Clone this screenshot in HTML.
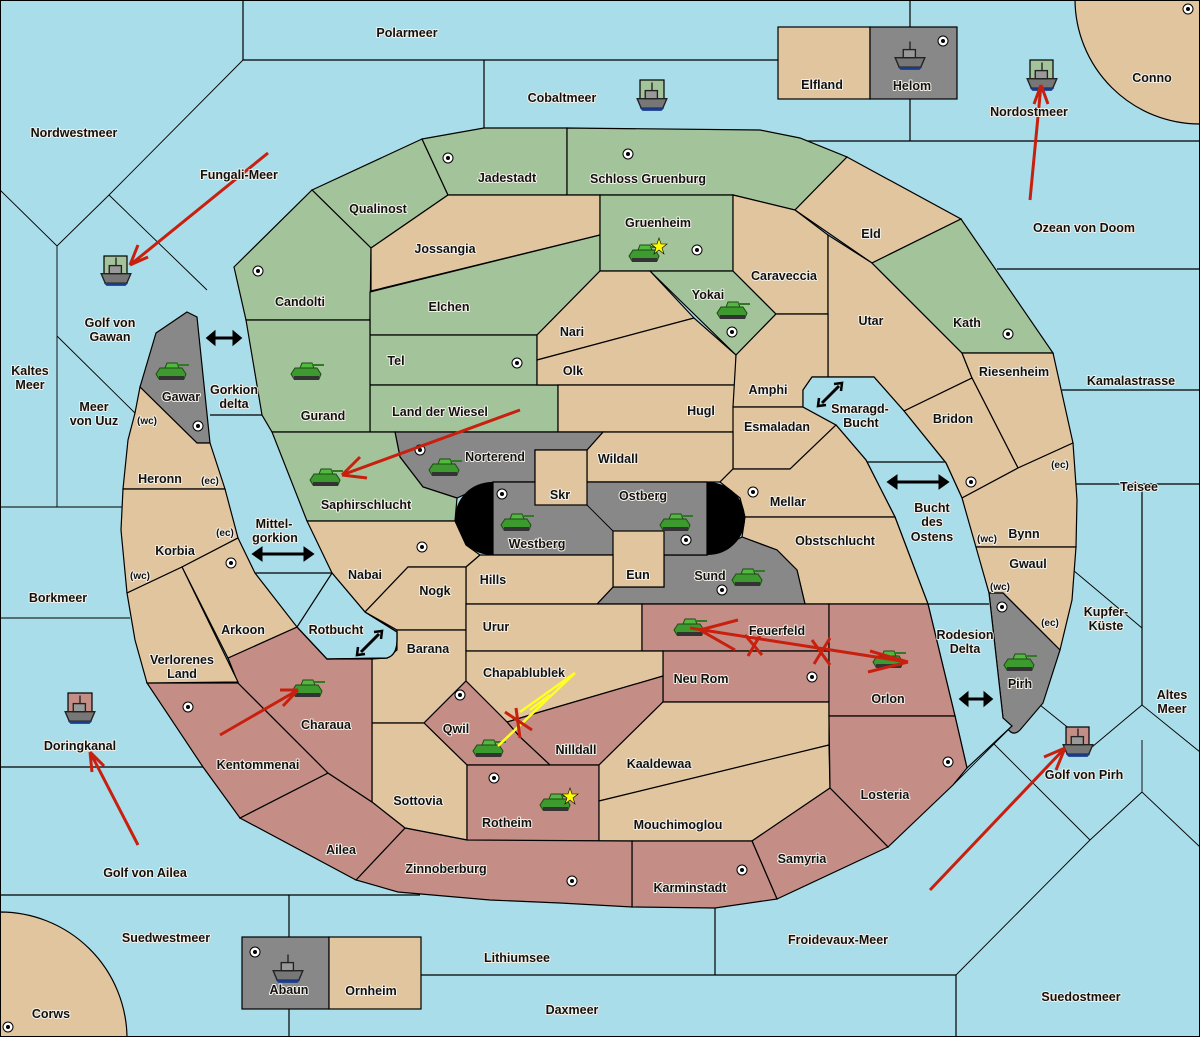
<!DOCTYPE html>
<html><head><meta charset="utf-8"><style>
html,body{margin:0;padding:0;background:#a9dde9;}
svg{display:block;}
text{font-family:"Liberation Sans",sans-serif;font-weight:bold;font-size:12.5px;fill:#111;text-anchor:middle;paint-order:stroke;stroke:#f4f0e8;stroke-width:2px;stroke-linejoin:round;}
.b{fill:#e1c59e;stroke:#000;stroke-width:1.2}
.g{fill:#a3c49a;stroke:#000;stroke-width:1.2}
.r{fill:#c48e86;stroke:#000;stroke-width:1.2}
.k{fill:#888;stroke:#000;stroke-width:1.2}
.w{fill:#a9dde9;stroke:#000;stroke-width:1.2}
.l{stroke:#000;stroke-width:1.2;fill:none}
.t{stroke:#000;stroke-width:0.9;fill:none}
.ar{stroke:#c8200f;stroke-width:3;fill:none;stroke-linecap:butt}
</style></head><body>
<svg width="1200" height="1037" viewBox="0 0 1200 1037" xmlns="http://www.w3.org/2000/svg">
<defs>
<g id="tk">
<path d="M-16,2 L-12,-4 L10,-4 L14,2 L12,7 L-13,7 Z" fill="#3d9a2e" stroke="#1d4a14" stroke-width="1"/>
<path d="M-7,-4 L-5,-9 L5,-9 L7,-4 Z" fill="#52b83f" stroke="#1d4a14" stroke-width="1"/>
<rect x="5" y="-8" width="12" height="2" fill="#2f7a22"/>
<rect x="-13" y="4" width="25" height="4" fill="#333"/>
</g>
<g id="sh0">
<path d="M-11,2 L11,2 L8,9 L-8,9 Z" fill="#777" stroke="#222" stroke-width="1"/>
<rect x="-5" y="-4" width="9" height="6" fill="#999" stroke="#222" stroke-width="1"/>
<line x1="0" y1="-10" x2="0" y2="-4" stroke="#222"/>
<path d="M-9,9 L9,9 L7,11 L-7,11 Z" fill="#1a3d8f"/>
</g>
<g id="sh"><g transform="scale(1.35)"><use href="#sh0"/></g></g>
<g id="dt"><circle r="5" fill="#fff" stroke="#000" stroke-width="1"/><circle r="2" fill="#000"/></g>
</defs>
<rect x="0" y="0" width="1200" height="1037" fill="#a9dde9"/>
<path class="b" d="M1075,0 A125,125 0 0 0 1200,124 L1200,0 Z"/>
<path class="b" d="M0,912 A127,127 0 0 1 127,1037 L0,1037 Z"/>
<path class="l" d="M243,0 V60 H778 M484,60 V128 M910,0 V27 M910,99 V141 M780,141 H1200"/>
<path class="t" d="M243,60 L109,195 L57,246 L0,190 M109,195 L207,290 M57,246 V507 M0,507 H122 M0,618 H130 M57,336 L135,413"/>
<path class="l" d="M997,269 H1200 M1062,390 H1200 M1072,484 H1200 M1142,484 V705 M0,767 H205 M0,895 H420 M289,895 V937 M289,1009 V1037 M421,975 H956 M715,908 V975 M956,975 V1037"/>
<path class="t" d="M1067,565 L1142,628 M1142,705 L1092,747 M1142,705 L1200,752 M1040,705 L1092,747 M1012,726 L953,785 M993,743 L1090,840 M1142,740 V792 L1090,840 L956,975 M1142,792 L1200,847"/>
<rect class="b" x="778" y="27" width="92" height="72"/>
<rect class="k" x="870" y="27" width="87" height="72"/>
<rect class="k" x="242" y="937" width="87" height="72"/>
<rect class="b" x="329" y="937" width="92" height="72"/>
<polygon class="g" points="422,139 312,190 371,248 448,195"/>
<polygon class="g" points="422,139 484,128 567,128 567,195 448,195"/>
<polygon class="g" points="567,128 760,130 800,138 847,157 795,210 733,195 567,195"/>
<polygon class="g" points="234,267 312,190 371,248 370,320 246,320"/>
<polygon class="b" points="371,248 448,195 600,195 600,235 371,291"/>
<polygon class="g" points="370,292 600,235 600,271 537,335 370,335"/>
<polygon class="g" points="370,335 537,335 537,385 370,385"/>
<polygon class="g" points="370,385 558,385 558,432 370,432"/>
<polygon class="g" points="246,320 370,320 370,432 272,432 262,415"/>
<polygon class="g" points="600,195 733,195 733,271 600,271"/>
<polygon class="g" points="650,271 733,271 776,314 736,355"/>
<polygon class="b" points="537,335 600,271 650,271 694,318 537,360"/>
<polygon class="b" points="537,360 694,318 736,355 736,385 537,385"/>
<polygon class="b" points="558,385 736,385 733,432 558,432"/>
<polygon class="b" points="847,157 961,219 872,263 795,210"/>
<polygon class="b" points="733,195 795,210 828,235 828,314 776,314 733,271"/>
<polygon class="b" points="828,235 872,263 962,353 972,378 904,411 874,377 828,377"/>
<polygon class="g" points="872,263 961,219 1053,353 962,353"/>
<polygon class="b" points="962,353 1053,353 1073,443 1018,468 972,378"/>
<polygon class="b" points="904,411 972,378 1018,468 962,498 946,463"/>
<polygon class="b" points="962,498 1018,468 1073,443 1077,500 1076,547 975,547"/>
<polygon class="b" points="975,547 1076,547 1072,600 1060,650 1003,593 989,593"/>
<path class="k" d="M989,593 L1003,593 L1060,650 L1043,703 L1020,730 Q1010,740 1003,718 Z"/>
<polygon class="b" points="736,355 776,314 828,314 828,377 812,377 803,390 803,407 733,407"/>
<polygon class="b" points="733,407 803,407 836,425 790,469 733,469"/>
<polygon class="w" points="812,377 874,377 904,411 946,463 962,498 989,593 1003,718 1012,726 967,768 955,716 928,604 895,517 866,460 836,425 803,407 803,390"/>
<path class="l" d="M866,462 H945 M928,604 H989"/>
<polygon class="b" points="603,432 733,432 733,469 720,482 587,482 587,450"/>
<polygon class="b" points="720,482 733,469 790,469 836,425 866,460 895,517 745,517 740,498"/>
<polygon class="b" points="745,517 895,517 928,604 805,604 797,570 777,550 742,537"/>
<polygon class="k" points="395,432 603,432 587,450 535,450 535,482 493,482 457,498 423,487 400,457"/>
<polygon class="g" points="272,432 395,432 400,457 423,487 457,498 455,521 307,521"/>
<polygon class="k" points="597,604 613,587 664,587 664,555 707,555 742,537 777,550 797,570 805,604"/>
<rect x="455" y="482" width="290" height="73" rx="37" fill="#000"/>
<polygon class="k" points="493,482 707,482 707,555 493,555"/>
<path class="t" d="M587,505 L613,531"/>
<rect class="b" x="535" y="450" width="52" height="55"/>
<rect class="b" x="613" y="531" width="51" height="56"/>
<polygon class="b" points="307,521 455,521 466,545 480,555 466,567 408,567 365,612 332,573"/>
<polygon class="b" points="466,567 480,555 613,555 613,587 597,604 466,604"/>
<polygon class="b" points="408,567 466,567 466,630 397,630 365,612"/>
<polygon class="b" points="397,630 466,630 466,681 424,723 372,723 372,659 387,658 397,650"/>
<polygon class="b" points="466,604 642,604 642,651 466,651"/>
<polygon class="r" points="642,604 829,604 829,651 642,651"/>
<polygon class="r" points="663,651 829,651 829,702 663,702"/>
<polygon class="b" points="466,651 663,651 663,676 540,712 507,722 466,681"/>
<polygon class="r" points="507,722 540,712 663,676 663,702 599,765 550,765 520,737"/>
<polygon class="r" points="466,681 507,722 520,737 550,765 467,765 424,723"/>
<polygon class="b" points="372,723 424,723 467,765 467,840 405,828 372,802"/>
<polygon class="r" points="467,765 599,765 599,841 467,841"/>
<polygon class="b" points="599,765 663,702 829,702 829,745 599,801"/>
<polygon class="b" points="599,801 829,745 830,788 752,841 599,841"/>
<polygon class="r" points="829,604 928,604 955,716 829,716"/>
<polygon class="r" points="829,716 955,716 967,768 953,785 888,847 830,788"/>
<polygon class="r" points="752,841 830,788 888,847 777,899"/>
<polygon class="r" points="632,841 752,841 777,899 715,908 632,907"/>
<polygon class="r" points="405,828 467,840 632,841 632,907 560,903 490,900 398,892 356,880"/>
<polygon class="r" points="240,818 328,773 372,802 405,828 356,880"/>
<polygon class="r" points="147,683 238,683 328,773 240,818 203,767"/>
<polygon class="r" points="297,627 327,659 372,659 372,802 328,773 238,683 228,658"/>
<polygon class="k" points="187,312 197,317 210,443 197,443 140,387 156,333"/>
<polygon class="b" points="140,387 197,443 210,443 225,489 123,489 128,440 135,413"/>
<polygon class="b" points="123,489 225,489 238,538 182,567 127,593 121,530"/>
<polygon class="b" points="238,538 255,573 297,627 228,658 182,567"/>
<polygon class="b" points="127,593 182,567 238,682 147,683 135,640"/>
<path class="w" d="M297,627 L327,659 L387,658 Q397,655 397,640 L397,632 L365,612 L332,573 Z" stroke="none"/>
<path class="l" d="M297,627 L327,659 L387,658 Q397,655 397,640 L397,632 L365,612"/>
<path class="l" d="M210,415 H262 M255,573 H332"/>
<g>
<use href="#dt" x="448" y="158"/><use href="#dt" x="628" y="154"/><use href="#dt" x="258" y="271"/><use href="#dt" x="697" y="250"/>
<use href="#dt" x="517" y="363"/><use href="#dt" x="732" y="332"/><use href="#dt" x="1008" y="334"/><use href="#dt" x="420" y="450"/>
<use href="#dt" x="502" y="494"/><use href="#dt" x="753" y="492"/><use href="#dt" x="422" y="547"/><use href="#dt" x="231" y="563"/>
<use href="#dt" x="971" y="482"/><use href="#dt" x="1002" y="607"/><use href="#dt" x="686" y="540"/><use href="#dt" x="722" y="590"/>
<use href="#dt" x="188" y="707"/><use href="#dt" x="460" y="695"/><use href="#dt" x="494" y="778"/><use href="#dt" x="812" y="677"/>
<use href="#dt" x="948" y="762"/><use href="#dt" x="742" y="870"/><use href="#dt" x="572" y="881"/><use href="#dt" x="198" y="426"/>
<use href="#dt" x="1188" y="9"/><use href="#dt" x="943" y="41"/><use href="#dt" x="255" y="952"/><use href="#dt" x="8" y="1027"/>
</g>
<rect class="g" x="640" y="80" width="24" height="22"/>
<rect class="g" x="1030" y="60" width="23" height="25"/>
<rect class="g" x="104" y="256" width="23" height="22"/>
<rect class="r" x="68" y="693" width="24" height="22"/>
<rect class="r" x="1066" y="727" width="23" height="22"/>
<use href="#sh" x="652" y="96"/><use href="#sh" x="1042" y="76"/><use href="#sh" x="116" y="271"/>
<use href="#sh" x="80" y="709"/><use href="#sh" x="1078" y="742"/><use href="#sh" x="910" y="55"/><use href="#sh" x="288" y="968"/>
<g>
<use href="#tk" x="172" y="372"/><use href="#tk" x="307" y="372"/><use href="#tk" x="326" y="478"/><use href="#tk" x="445" y="468"/>
<use href="#tk" x="517" y="523"/><use href="#tk" x="676" y="523"/><use href="#tk" x="748" y="578"/><use href="#tk" x="645" y="254"/>
<use href="#tk" x="733" y="311"/><use href="#tk" x="690" y="628"/><use href="#tk" x="889" y="660"/><use href="#tk" x="1020" y="663"/>
<use href="#tk" x="489" y="749"/><use href="#tk" x="556" y="803"/><use href="#tk" x="308" y="689"/>
</g>
<polygon points="659,238 661,244 667,244 662,248 664,254 659,250 654,254 656,248 651,244 657,244" fill="#ff0" stroke="#000" stroke-width="0.6"/>
<polygon points="570,788 572,794 578,794 573,798 575,804 570,800 565,804 567,798 562,794 568,794" fill="#ff0" stroke="#000" stroke-width="0.6"/>
<g stroke="#000" stroke-width="3" fill="#000">
<line x1="212" y1="338" x2="236" y2="338"/><polygon points="208,338 214,333 214,343"/><polygon points="240,338 234,333 234,343"/>
<line x1="258" y1="554" x2="308" y2="554"/><polygon points="254,554 261,549 261,559"/><polygon points="312,554 305,549 305,559"/>
<line x1="893" y1="482" x2="943" y2="482"/><polygon points="889,482 896,477 896,487"/><polygon points="947,482 940,477 940,487"/>
<line x1="965" y1="699" x2="987" y2="699"/><polygon points="961,699 967,694 967,704"/><polygon points="991,699 985,694 985,704"/>
<line x1="822" y1="403" x2="839" y2="386"/><line x1="361" y1="652" x2="379" y2="634"/>
</g>
<g fill="none" stroke="#000" stroke-width="2.5">
<path d="M819,398 L818,406 L826,405"/><path d="M834,384 L842,383 L841,391"/>
<path d="M358,647 L357,655 L365,654"/><path d="M374,632 L382,631 L381,639"/>
</g>
<g class="ar">
<path d="M268,153 L130,265 M130,265 L138,245 M130,265 L148,257"/>
<path d="M1030,200 L1041,85 M1041,85 L1034,104 M1041,85 L1048,104"/>
<path d="M138,845 L90,752 M90,752 L92,772 M90,752 L104,766"/>
<path d="M930,890 L1065,748 M1065,748 L1044,757 M1065,748 L1056,770"/>
<path d="M520,410 L342,475 M342,475 L360,457 M342,475 L367,478"/>
<path d="M220,735 L298,690 M298,690 L280,690 M298,690 L283,706"/>
<path d="M690,628 L908,662 M700,630 L738,620 M700,630 L735,650 M908,662 L870,651 M908,662 L868,672"/>
<path d="M745,635 L762,655 M762,632 L748,656 M812,640 L830,665 M830,638 L814,664"/>
</g>
<path d="M575,673 L498,746 M575,673 L520,712 M550,695 L530,710" stroke="#ff2" stroke-width="2.5" fill="none"/>
<path d="M505,712 L532,730 M516,708 L520,738" stroke="#c8200f" stroke-width="3" fill="none"/>
<g>
<text x="407" y="37">Polarmeer</text><text x="562" y="102">Cobaltmeer</text><text x="822" y="89">Elfland</text>
<text x="912" y="90">Helom</text><text x="1029" y="116">Nordostmeer</text><text x="1152" y="82">Conno</text>
<text x="74" y="137">Nordwestmeer</text><text x="239" y="179">Fungali-Meer</text><text x="507" y="182">Jadestadt</text>
<text x="648" y="183">Schloss Gruenburg</text><text x="378" y="213">Qualinost</text><text x="658" y="227">Gruenheim</text>
<text x="871" y="238">Eld</text><text x="1084" y="232">Ozean von Doom</text><text x="445" y="253">Jossangia</text>
<text x="784" y="280">Caraveccia</text><text x="110" y="327">Golf von</text><text x="110" y="341">Gawan</text>
<text x="300" y="306">Candolti</text><text x="708" y="299">Yokai</text><text x="449" y="311">Elchen</text>
<text x="871" y="325">Utar</text><text x="967" y="327">Kath</text><text x="572" y="336">Nari</text>
<text x="396" y="365">Tel</text><text x="30" y="375">Kaltes</text><text x="30" y="389">Meer</text>
<text x="573" y="375">Olk</text><text x="1014" y="376">Riesenheim</text><text x="1131" y="385">Kamalastrasse</text>
<text x="768" y="394">Amphi</text><text x="181" y="401">Gawar</text><text x="234" y="394">Gorkion</text><text x="234" y="408">delta</text>
<text x="94" y="411">Meer</text><text x="94" y="425">von Uuz</text><text x="147" y="424" style="font-size:10px">(wc)</text>
<text x="440" y="416">Land der Wiesel</text><text x="701" y="415">Hugl</text><text x="323" y="420">Gurand</text>
<text x="860" y="413">Smaragd-</text><text x="861" y="427">Bucht</text><text x="953" y="423">Bridon</text>
<text x="777" y="431">Esmaladan</text><text x="160" y="483">Heronn</text><text x="210" y="484" style="font-size:10px">(ec)</text>
<text x="495" y="461">Norterend</text><text x="618" y="463">Wildall</text><text x="1060" y="468" style="font-size:10px">(ec)</text>
<text x="1139" y="491">Teisee</text><text x="560" y="499">Skr</text><text x="643" y="500">Ostberg</text>
<text x="788" y="506">Mellar</text><text x="366" y="509">Saphirschlucht</text>
<text x="932" y="512">Bucht</text><text x="932" y="526">des</text><text x="932" y="541">Ostens</text>
<text x="274" y="528">Mittel-</text><text x="275" y="542">gorkion</text><text x="225" y="536" style="font-size:10px">(ec)</text>
<text x="1024" y="538">Bynn</text><text x="987" y="542" style="font-size:10px">(wc)</text><text x="537" y="548">Westberg</text>
<text x="835" y="545">Obstschlucht</text><text x="175" y="555">Korbia</text><text x="1028" y="568">Gwaul</text>
<text x="140" y="579" style="font-size:10px">(wc)</text><text x="365" y="579">Nabai</text><text x="638" y="579">Eun</text>
<text x="710" y="580">Sund</text><text x="493" y="584">Hills</text><text x="435" y="595">Nogk</text>
<text x="1000" y="590" style="font-size:10px">(wc)</text><text x="58" y="602">Borkmeer</text>
<text x="1106" y="616">Kupfer-</text><text x="1106" y="630">Küste</text><text x="1050" y="626" style="font-size:10px">(ec)</text>
<text x="243" y="634">Arkoon</text><text x="336" y="634">Rotbucht</text><text x="496" y="631">Urur</text>
<text x="777" y="635">Feuerfeld</text><text x="965" y="639">Rodesion</text><text x="965" y="653">Delta</text>
<text x="428" y="653">Barana</text><text x="182" y="664">Verlorenes</text><text x="182" y="678">Land</text>
<text x="524" y="677">Chapablublek</text><text x="701" y="683">Neu Rom</text><text x="1020" y="688">Pirh</text>
<text x="888" y="703">Orlon</text><text x="1172" y="699">Altes</text><text x="1172" y="713">Meer</text>
<text x="326" y="729">Charaua</text><text x="456" y="733">Qwil</text><text x="80" y="750">Doringkanal</text>
<text x="576" y="754">Nilldall</text><text x="258" y="769">Kentommenai</text><text x="659" y="768">Kaaldewaa</text>
<text x="1084" y="779">Golf von Pirh</text><text x="885" y="799">Losteria</text><text x="418" y="805">Sottovia</text>
<text x="507" y="827">Rotheim</text><text x="678" y="829">Mouchimoglou</text><text x="341" y="854">Ailea</text>
<text x="802" y="863">Samyria</text><text x="446" y="873">Zinnoberburg</text><text x="145" y="877">Golf von Ailea</text>
<text x="690" y="892">Karminstadt</text><text x="166" y="942">Suedwestmeer</text><text x="838" y="944">Froidevaux-Meer</text>
<text x="517" y="962">Lithiumsee</text><text x="289" y="994">Abaun</text><text x="371" y="995">Ornheim</text>
<text x="1081" y="1001">Suedostmeer</text><text x="572" y="1014">Daxmeer</text><text x="51" y="1018">Corws</text>
</g>
<rect x="0.5" y="0.5" width="1199" height="1036" fill="none" stroke="#000" stroke-width="1"/>
</svg>
</body></html>
